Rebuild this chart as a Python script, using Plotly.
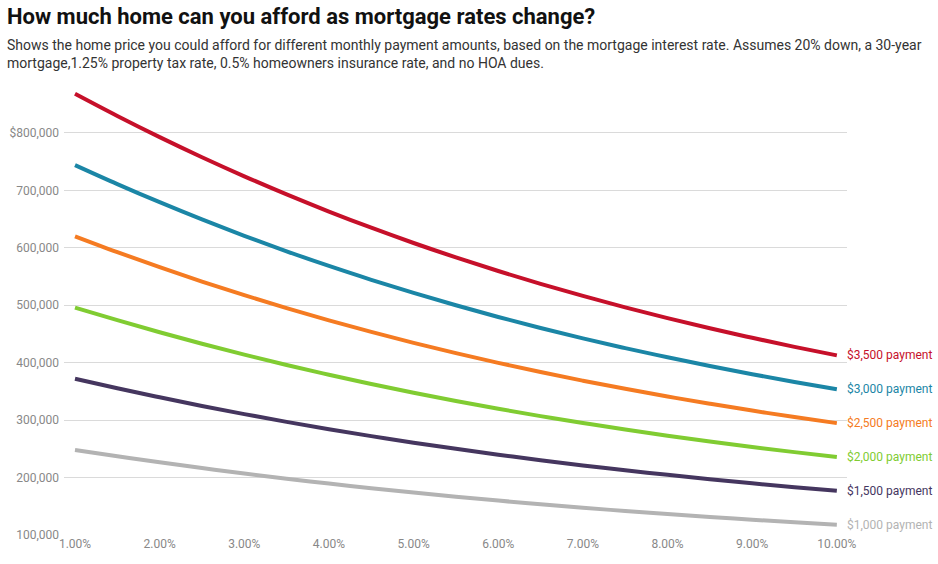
import plotly.graph_objects as go

rates = [1.0, 1.5, 2.0, 2.5, 3.0, 3.5, 4.0, 4.5, 5.0, 5.5, 6.0, 6.5, 7.0, 7.5, 8.0, 8.5, 9.0, 9.5, 10.0]

pay_1000 = [248000, 237000, 226500, 216500, 207000, 198000, 189500, 181400, 173800, 166700, 159900, 153500, 147500, 141800, 136500, 131400, 126700, 122200, 117900]
pay_1500 = [372000, 355500, 339700, 324700, 310500, 297000, 284200, 272100, 260700, 250000, 239800, 230200, 221200, 212700, 204700, 197100, 190000, 183300, 176900]
pay_2000 = [496000, 474000, 453000, 433000, 414000, 396000, 379000, 362900, 347600, 333300, 319800, 307000, 295000, 283600, 272900, 262800, 253300, 244300, 235900]
pay_2500 = [620100, 592500, 566200, 541200, 517500, 495000, 473700, 453600, 434500, 416600, 399700, 383700, 368700, 354500, 341100, 328500, 316600, 305400, 294800]
pay_3000 = [744100, 711000, 679400, 649400, 621000, 594000, 568400, 544300, 521500, 500000, 479600, 460500, 442400, 425400, 409400, 394200, 380000, 366500, 353800]
pay_3500 = [868100, 829500, 792700, 757700, 724500, 693000, 663200, 635000, 608400, 583300, 559600, 537200, 516200, 496300, 477600, 459900, 443300, 427600, 412800]

series_names = ["$1,000 payment", "$1,500 payment", "$2,000 payment",
                "$2,500 payment", "$3,000 payment", "$3,500 payment"]
series_values = [pay_1000, pay_1500, pay_2000, pay_2500, pay_3000, pay_3500]
colors = ["#b3b3b3", "#45365f", "#80cc32", "#f57b22", "#1b86a6", "#c6102a"]

y_tickvals = [100000, 200000, 300000, 400000, 500000, 600000, 700000, 800000]
y_ticktext = ["100,000", "200,000", "300,000", "400,000", "500,000", "600,000", "700,000", "$800,000"]
x_tickvals = [1, 2, 3, 4, 5, 6, 7, 8, 9, 10]
x_ticktext = ["1.00%", "2.00%", "3.00%", "4.00%", "5.00%", "6.00%", "7.00%", "8.00%", "9.00%", "10.00%"]

fig = go.Figure()
for name, vals, col in zip(series_names, series_values, colors):
    fig.add_trace(go.Scatter(x=rates, y=vals, mode="lines", name=name,
                             line=dict(color=col, width=4, shape="spline"),
                             showlegend=False, hoverinfo="skip"))
    fig.add_annotation(x=1, xref="paper", y=vals[-1], yref="y", text=name,
                       showarrow=False, xanchor="left", yanchor="middle", xshift=-2,
                       font=dict(color=col, size=12, family="Roboto"))

fig.update_layout(
    width=938, height=564,
    margin=dict(l=64, r=91, t=87, b=29),
    paper_bgcolor="white", plot_bgcolor="white",
    font=dict(family="Roboto", color="#888888", size=12),
    xaxis=dict(range=[0.87, 10.12], tickvals=x_tickvals, ticktext=x_ticktext,
               showgrid=False, zeroline=False, showline=False, ticks="",
               automargin=False, tickfont=dict(size=12, color="#888888")),
    yaxis=dict(range=[100000, 880000], tickvals=y_tickvals, ticktext=y_ticktext,
               showgrid=True, gridcolor="#dadada", gridwidth=1, zeroline=False,
               showline=False, ticks="", ticklabelstandoff=4, automargin=False,
               tickfont=dict(size=12, color="#888888")),
)

fig.add_annotation(x=0, xref="paper", xanchor="left", xshift=-59,
                   y=1, yref="paper", yanchor="top", yshift=85,
                   text="<b>How much home can you afford as mortgage rates change?</b>",
                   showarrow=False, align="left",
                   font=dict(size=22, color="#111111", family="Roboto"))
fig.add_annotation(x=0, xref="paper", xanchor="left", xshift=-59,
                   y=1, yref="paper", yanchor="top", yshift=52,
                   text="Shows the home price you could afford for different monthly payment amounts, based on the mortgage interest rate. Assumes 20% down, a 30-year<br>mortgage,1.25% property tax rate, 0.5% homeowners insurance rate, and no HOA dues.",
                   showarrow=False, align="left",
                   font=dict(size=14, color="#333333", family="Roboto"))

fig.write_html("out.html", config={"displayModeBar": False},
               post_script="document.body.style.margin='0';document.body.style.overflow='hidden';")
